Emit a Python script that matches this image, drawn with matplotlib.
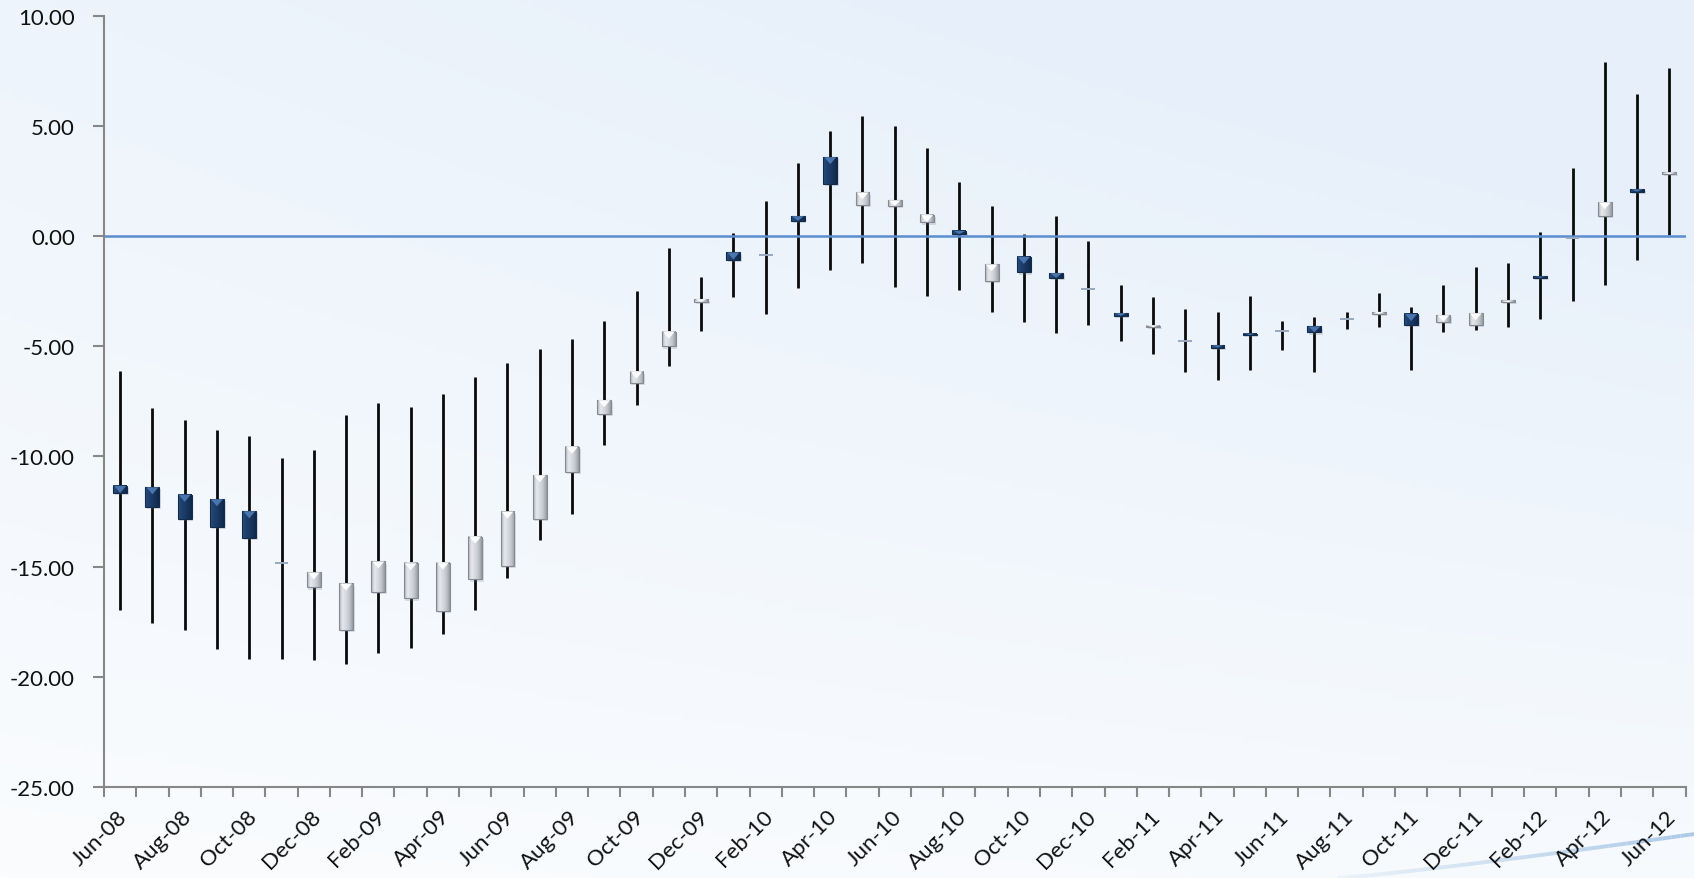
import numpy as np
import pandas as pd
import matplotlib
matplotlib.use("Agg")
import matplotlib.pyplot as plt
from matplotlib.patches import Rectangle, Polygon
from matplotlib.collections import LineCollection
from matplotlib.colors import to_rgb

plt.rcParams['font.family'] = ['Lato', 'DejaVu Sans']

# ---------------- data ----------------
months = [d.strftime('%b-%y') for d in pd.date_range('2008-06-01', '2012-06-01', freq='MS')]

open_ = [-11.34, -11.40, -11.74, -11.94, -12.49, -14.82, -15.95, -17.88, -16.15, -16.45,
         -17.02, -15.59, -14.97, -12.82, -10.70, -8.05, -6.64, -5.00, -2.97, -0.73,
         -0.85, 0.92, 3.60, 1.42, 1.39, 0.64, 0.25, -2.02, -0.93, -1.67,
         -2.41, -3.49, -4.12, -4.77, -4.95, -4.42, -4.32, -4.09, -3.77, -3.52,
         -3.53, -3.88, -4.03, -2.99, -1.82, -0.08, 0.94, 2.14, 2.83]
close = [-11.67, -12.29, -12.85, -13.21, -13.70, -14.82, -15.27, -15.77, -14.77, -14.85,
         -14.82, -13.64, -12.50, -10.85, -9.56, -7.44, -6.14, -4.33, -2.85, -1.06,
         -0.85, 0.71, 2.38, 2.00, 1.64, 0.97, 0.10, -1.27, -1.64, -1.88,
         -2.41, -3.61, -4.06, -4.77, -5.05, -4.48, -4.32, -4.36, -3.77, -3.43,
         -4.03, -3.58, -3.49, -2.91, -1.88, -0.08, 1.55, 2.03, 2.91]
high = [-6.11, -7.82, -8.35, -8.80, -9.06, -10.09, -9.71, -8.12, -7.55, -7.73,
        -7.18, -6.40, -5.77, -5.12, -4.67, -3.85, -2.49, -0.52, -1.86, 0.16,
        1.59, 3.35, 4.77, 5.47, 5.00, 4.01, 2.47, 1.38, 0.12, 0.92,
        -0.21, -2.21, -2.77, -3.29, -3.45, -2.71, -3.86, -3.67, -3.43, -2.58,
        -3.20, -2.23, -1.40, -1.20, 0.20, 3.10, 7.91, 6.48, 7.65]
low = [-16.97, -17.55, -17.88, -18.73, -19.21, -19.18, -19.26, -19.44, -18.91, -18.68,
       -18.08, -16.97, -15.50, -13.80, -12.62, -9.49, -7.67, -5.91, -4.32, -2.74,
       -3.53, -2.33, -1.52, -1.20, -2.29, -2.70, -2.45, -3.43, -3.91, -4.41,
       -4.03, -4.74, -5.34, -6.15, -6.52, -6.08, -5.18, -6.18, -4.21, -4.10,
       -6.08, -4.36, -4.24, -4.11, -3.77, -2.93, -2.21, -1.06, 0.05]

yticks = [-25, -20, -15, -10, -5, 0, 5, 10]

# ---------------- figure ----------------
W, H = 1694, 879
fig = plt.figure(figsize=(W / 100, H / 100), dpi=100)

# background gradient
bg = fig.add_axes([0, 0, 1, 1], zorder=0)
ny, nx = 200, 300
yy, xx = np.mgrid[0:1:ny * 1j, 0:1:nx * 1j]
t = np.clip(0.65 * yy + 0.45 * xx * yy + 0.15 * xx, 0, 1)
c_low = np.array(to_rgb('#fafcfe'))
c_high = np.array(to_rgb('#e7f0fa'))
img = c_low[None, None, :] * (1 - t[..., None]) + c_high[None, None, :] * t[..., None]
bg.imshow(img, extent=[0, 1, 0, 1], origin='lower', aspect='auto')
# swoosh bottom-right
sx = np.linspace(0.79, 1.0, 80)
sy = 0.05 * ((sx - 0.79) / 0.21) ** 1.15
pts = np.array([sx, sy]).T.reshape(-1, 1, 2)
segs = np.concatenate([pts[:-1], pts[1:]], axis=1)
alphas = np.linspace(0.15, 0.95, len(segs))
cols = [(0.66, 0.78, 0.90, a) for a in alphas]
bg.add_collection(LineCollection(segs, colors=cols, linewidths=2.8))
bg.set_xlim(0, 1)
bg.set_ylim(0, 1)
bg.axis('off')

# main axes
x0, x1 = 104 / W, 1685.5 / W
y0, y1 = 1 - 787.6 / H, 1 - 17.3 / H
ax = fig.add_axes([x0, y0, x1 - x0, y1 - y0], zorder=1)
ax.patch.set_alpha(0)

n = len(months)
xs = np.arange(n)
bw = 0.43

# wicks
ax.vlines(xs, low, high, color='#0a0a0a', lw=2.0, zorder=2)
# zero line
ax.axhline(0, color='#5b8dcf', lw=1.8, zorder=2.5)


def gradient_img(colors):
    stops = np.linspace(0, 1, len(colors))
    xs_ = np.linspace(0, 1, 24)
    rgb = np.array([to_rgb(c) for c in colors])
    out = np.stack([np.interp(xs_, stops, rgb[:, k]) for k in range(3)], axis=-1)
    return out[None, :, :]


silver_img = gradient_img(['#aeb2b9', '#e6e8ec', '#d6d9de', '#c2c6cc', '#979ca4'])
blue_img = gradient_img(['#2b4f7e', '#1f4170', '#1b3a64', '#163259', '#10294a'])

for i in range(n):
    o, c = open_[i], close[i]
    lo, hi = min(o, c), max(o, c)
    h = hi - lo
    if h < 1e-6:
        ax.hlines(o, i - bw / 2, i + bw / 2, color='#97a8bf', lw=1.4, zorder=5)
        continue
    up = c > o
    # shadow
    ax.add_patch(Rectangle((i - bw / 2 + 0.05, lo - 0.10), bw, h, facecolor='#6c7a8c',
                           alpha=0.22, lw=0, zorder=3))
    ax.imshow(silver_img if up else blue_img, extent=(i - bw / 2, i + bw / 2, lo, hi),
              aspect='auto', interpolation='bilinear', zorder=4)
    ax.add_patch(Rectangle((i - bw / 2, lo), bw, h, fill=False,
                           edgecolor='#858a93' if up else '#132c4c', lw=0.8, zorder=5))
    th = min(0.32, h)
    ax.add_patch(Polygon([(i - bw / 2 + 0.03, hi), (i + bw / 2 - 0.03, hi), (i, hi - th)],
                         closed=True, facecolor='#ffffff' if up else '#4f7db5',
                         alpha=0.95 if up else 0.9, lw=0, zorder=6))

ax.set_xlim(-0.5, n - 0.5)
ax.set_ylim(-25, 10)

# spines
for s in ['top', 'right']:
    ax.spines[s].set_visible(False)
for s in ['left', 'bottom']:
    ax.spines[s].set_color('#878787')
    ax.spines[s].set_linewidth(1.5)

ax.set_yticks(yticks)
ax.set_yticklabels([f"{v:.2f}" for v in yticks])
ax.tick_params(axis='y', direction='out', length=8, width=1.5, color='#878787',
               pad=13, labelsize=16, labelcolor='#111111')

ax.set_xticks(np.arange(-0.5, n, 1), minor=True)
ax.set_xticks(xs[::2] + 0.12)
ax.set_xticklabels(months[::2], rotation=45, ha='right', va='center',
                   rotation_mode='anchor')
ax.tick_params(axis='x', which='major', length=0, pad=19, labelsize=16,
               labelcolor='#111111')
ax.tick_params(axis='x', which='minor', direction='out', length=7, width=1.5,
               color='#878787')

fig.savefig('out.png', dpi=100)
